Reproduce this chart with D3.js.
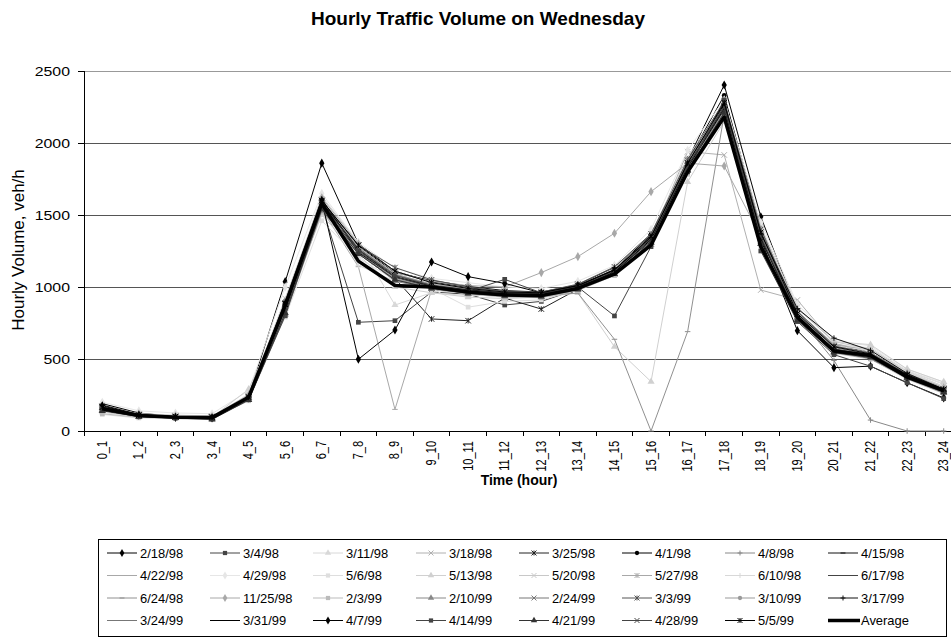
<!DOCTYPE html>
<html><head><meta charset="utf-8">
<script src="https://cdn.jsdelivr.net/npm/d3@7"></script>
<style>body{margin:0;background:#fff} svg{display:block} text{font-family:Arial,"Liberation Sans",sans-serif}</style>
</head><body><svg id="c" width="951" height="644"></svg>
<script>
const hours = ["0_1","1_2","2_3","3_4","4_5","5_6","6_7","7_8","8_9","9_10","10_11","11_12","12_13","13_14","14_15","15_16","16_17","17_18","18_19","19_20","20_21","21_22","22_23","23_24"];
const yTicks = [0,500,1000,1500,2000,2500];
const titleText = "Hourly Traffic Volume on Wednesday";
const xTitle = "Time (hour)";
const yTitle = "Hourly Volume, veh/h";

const seriesNames = ["2/18/98","3/4/98","3/11/98","3/18/98","3/25/98","4/1/98","4/8/98","4/15/98",
 "4/22/98","4/29/98","5/6/98","5/13/98","5/20/98","5/27/98","6/10/98","6/17/98",
 "6/24/98","11/25/98","2/3/99","2/10/99","2/24/99","3/3/99","3/10/99","3/17/99",
 "3/24/99","3/31/99","4/7/99","4/14/99","4/21/99","4/28/99","5/5/99"];

const v_021898 = [190,125,100,95,240,1037,1860,1300,1110,1035,995,965,955,1010,1125,1360,1880,2403,1488,830,600,545,395,295];
const v_030498 = [160,105,95,90,220,820,1560,755,766,965,950,875,900,985,1090,1310,1810,2270,1300,780,560,505,365,265];
const v_031198 = [140,110,100,100,255,910,1630,1310,875,960,940,950,960,1010,1125,1345,1860,2250,1390,830,605,570,415,325];
const v_031898 = [150,115,105,100,245,875,1605,1265,1090,1020,985,960,955,1005,1105,1335,1940,1917,979,910,610,545,395,295];
const v_032598 = [170,110,95,95,225,860,1580,1250,1060,778,766,923,847,985,1090,1300,1820,2230,1320,790,570,520,380,280];
const v_040198 = [155,100,90,90,230,900,1600,1285,1100,1045,1005,975,965,1015,1135,1365,1875,2330,1410,805,565,500,370,270];
const v_040898 = [150,105,100,95,235,880,1580,1270,1085,1010,980,960,950,1000,1110,1330,1840,2240,1340,800,490,76,0,0];
const v_041598 = [165,110,100,100,230,850,1570,1240,1050,1000,970,950,945,995,1100,1320,1800,2200,1300,770,550,520,375,275];
const v_042298 = [145,100,95,90,220,830,1540,1141,150,979,960,940,940,990,1100,1310,1820,2210,1310,780,560,520,380,270];
const v_042998 = [200,140,125,120,280,1000,1650,1310,1130,1060,1030,1000,990,1040,1150,1400,1950,2300,1450,880,630,590,430,340];
const v_050698 = [115,90,85,80,260,790,1460,1200,1050,990,860,900,910,980,1080,1300,1780,2200,1320,800,590,580,420,330];
const v_051398 = [130,100,95,95,290,850,1500,1220,1000,960,930,920,930,958,585,343,1730,2150,1400,850,620,600,430,340];
const v_052098 = [160,120,110,105,250,920,1610,1290,1110,1030,990,965,960,1010,1130,1370,1900,2280,1420,860,620,570,410,310];
const v_052798 = [150,110,100,100,240,870,1590,1280,1090,1020,985,960,955,1005,1120,1350,1880,2250,1380,830,600,560,400,300];
const v_061098 = [140,105,100,95,245,880,1600,1150,1040,1000,960,940,935,990,1100,1330,1850,2220,1350,820,590,560,410,310];
const v_061798 = [155,105,95,95,230,870,1580,1260,1070,1005,970,950,945,995,1105,1320,1820,2230,1330,790,565,520,380,280];
const v_062498 = [150,105,95,95,235,860,1570,1250,1060,1000,965,945,940,958,637,0,690,2200,1300,780,560,520,375,275];
const v_112598 = [170,120,105,100,250,900,1620,1300,1100,1040,1010,1000,1100,1211,1373,1662,1860,1840,1350,820,590,540,400,300];
const v_020399 = [120,95,90,85,210,800,1520,1230,1050,990,950,930,925,975,1080,1300,1790,2190,1290,760,540,500,360,260];
const v_021099 = [145,100,90,85,215,810,1530,1240,1040,990,955,935,930,980,1090,1310,1810,2210,1300,770,550,510,365,265];
const v_022499 = [160,110,100,95,235,870,1590,1270,1085,1015,980,955,950,1000,1110,1340,1850,2260,1360,810,580,530,390,285];
const v_030399 = [165,115,100,100,240,890,1600,1290,1135,1050,1000,970,965,1020,1140,1370,1880,2290,1400,830,590,540,395,290];
const v_031099 = [155,105,95,90,225,850,1560,1240,1060,995,960,945,940,990,1095,1310,1820,2220,1320,785,560,515,375,275];
const v_031799 = [180,115,100,95,240,900,1610,1240,1070,1010,980,960,955,1005,1115,1345,1860,2270,1370,850,645,560,400,290];
const v_032499 = [150,105,95,90,230,840,1550,1230,1050,995,960,940,935,985,1090,1300,1800,2200,1290,770,545,505,370,270];
const v_033199 = [160,110,100,95,235,870,1590,1260,1070,1005,975,955,950,1000,1105,1330,1830,2240,1340,795,565,525,385,280];
const v_040799 = [175,110,95,90,230,880,1600,498,701,1174,1072,1025,960,1010,1120,1340,1840,2250,1330,697,440,450,335,230];
const v_041499 = [150,100,90,85,220,800,1550,1250,1070,1000,970,1053,960,1000,799,1280,1800,2300,1250,760,530,450,335,225];
const v_042199 = [140,100,90,80,215,820,1540,1230,1050,990,955,940,935,985,1090,1310,1810,2210,1300,770,545,510,370,270];
const v_042899 = [155,105,95,95,230,860,1580,1260,1080,1010,975,955,950,1000,1110,1340,1840,2250,1350,800,570,530,385,285];
const v_050599 = [165,110,100,95,235,880,1600,1290,1110,1030,990,965,960,1010,1120,1350,1860,2280,1380,815,585,535,390,290];
const averageName = "Average";
const averageValues = [155,108,96,93,235,870,1580,1180,1010,1000,965,945,940,990,1090,1290,1800,2180,1280,790,555,525,375,280];

const seriesValues = [v_021898,v_030498,v_031198,v_031898,v_032598,v_040198,v_040898,v_041598,
 v_042298,v_042998,v_050698,v_051398,v_052098,v_052798,v_061098,v_061798,
 v_062498,v_112598,v_020399,v_021099,v_022499,v_030399,v_031099,v_031799,
 v_032499,v_033199,v_040799,v_041499,v_042199,v_042899,v_050599];

// styles (kept apart from data)
const seriesColors = ["#000","#444","#d8d8d8","#b0b0b0","#222","#000","#888","#111",
 "#a8a8a8","#e6e6e6","#dedede","#d0d0d0","#c8c8c8","#a8a8a8","#d8d8d8","#444",
 "#909090","#a8a8a8","#bbbbbb","#888","#777","#555","#999","#111",
 "#777","#000","#000","#444","#333","#444","#000"];
const seriesMarkers = ["diamond","square","triangle","x","star","circle","plus","dash",
 "dash","diamond","square","triangle","x","star","plus","dash",
 "dash","diamond","square","triangle","x","star","circle","plus",
 "dash","dash","diamond","square","triangle","x","star"];

const FONT = "Arial, 'Liberation Sans', sans-serif";
const svg = d3.select("#c");
const plotL = 84, plotR = 951, plotT = 71, plotB = 431;
const x = d3.scaleBand().domain(hours).range([plotL, 962]);
const y = d3.scaleLinear().domain([0, 2500]).range([plotB, plotT]);
const cx = h => x(h) + x.bandwidth()/2;

// gridlines
svg.append("g").selectAll("line").data(yTicks.filter(t => t > 0)).join("line")
  .attr("x1", plotL).attr("x2", plotR).attr("y1", d => y(d)).attr("y2", d => y(d))
  .attr("stroke", d => d === 2500 ? "#999" : "#555").attr("stroke-width", 1)
  .attr("shape-rendering", "crispEdges");

// y axis
const yAxis = d3.axisLeft(y).tickValues(yTicks).tickFormat(d3.format("d")).tickSize(6).tickPadding(8);
const gy = svg.append("g").attr("transform", `translate(${plotL},0)`).call(yAxis);
gy.select(".domain").attr("stroke", "#000").attr("shape-rendering", "crispEdges");
gy.selectAll(".tick line").attr("stroke", "#000").attr("shape-rendering", "crispEdges");
gy.selectAll(".tick text").attr("font-size", 13).attr("fill", "#000").attr("font-family", FONT)
  .attr("x", 0).attr("dy", "0.36em").attr("transform", "translate(-14,0) scale(1.22,1)");

// x axis
const xAxis = d3.axisBottom(x).tickSize(0).tickPadding(0);
const gx = svg.append("g").attr("transform", `translate(0,${plotB})`).call(xAxis);
gx.select(".domain").remove();
gx.append("line").attr("x1", plotL).attr("x2", plotR).attr("y1", 0).attr("y2", 0)
  .attr("stroke", "#000").attr("shape-rendering", "crispEdges");
gx.selectAll(".tick text").attr("font-size", 11).attr("fill", "#000").attr("font-family", FONT)
  .attr("text-anchor", "end").attr("dy", null).attr("y", 0)
  .attr("transform", "translate(4.5,10) scale(1.27,1) rotate(-90)");
gx.append("g").selectAll("line").data(hours).join("line")
  .attr("x1", d => x(d)).attr("x2", d => x(d)).attr("y1", 0).attr("y2", 5)
  .attr("stroke", "#000").attr("shape-rendering", "crispEdges");

function markerPath(type, s) {
  const h = s/2;
  switch (type) {
    case "x": return `M${-h},${-h}L${h},${h}M${-h},${h}L${h},${-h}`;
    case "star": return `M${-h},${-h}L${h},${h}M${-h},${h}L${h},${-h}M0,${-h}L0,${h}`;
    case "plus": return `M${-h},0L${h},0M0,${-h}L0,${h}`;
    case "dash": return `M${-h},0L${h},0`;
  }
  return null;
}
function drawMarker(g, type, px, py, color, scale) {
  const k = scale || 1;
  if (type === "diamond" || type === "square" || type === "triangle" || type === "circle") {
    const sym = {diamond: d3.symbolDiamond, square: d3.symbolSquare, triangle: d3.symbolTriangle, circle: d3.symbolCircle}[type];
    const size = {diamond: 24, square: 22, triangle: 22, circle: 18}[type] * k * k;
    g.append("path").attr("d", d3.symbol().type(sym).size(size)())
      .attr("transform", `translate(${px},${py})`).attr("fill", color).attr("stroke", "none");
  } else {
    g.append("path").attr("d", markerPath(type, 5.5 * k))
      .attr("transform", `translate(${px},${py})`).attr("fill", "none").attr("stroke", color).attr("stroke-width", 1);
  }
}

const line = d3.line().x((d, i) => cx(hours[i])).y(d => y(d));
const plot = svg.append("g");
seriesValues.forEach((vals, si) => {
  const g = plot.append("g");
  g.append("path").attr("d", line(vals)).attr("fill", "none")
    .attr("stroke", seriesColors[si]).attr("stroke-width", 1);
  vals.forEach((v, i) => drawMarker(g, seriesMarkers[si], cx(hours[i]), y(v), seriesColors[si]));
});
plot.append("path").attr("d", line(averageValues)).attr("fill", "none")
  .attr("stroke", "#000").attr("stroke-width", 3.5).attr("stroke-linejoin", "round");

// titles
svg.append("text").attr("x", 478).attr("y", 25).attr("text-anchor", "middle")
  .attr("font-size", 19).attr("font-weight", "bold").text(titleText);
svg.append("text").attr("x", 519).attr("y", 485).attr("text-anchor", "middle")
  .attr("font-size", 14).attr("font-weight", "bold").text(xTitle);
svg.append("text").attr("transform", "translate(24,250) rotate(-90)").attr("text-anchor", "middle")
  .attr("font-size", 17).text(yTitle);

// legend
const legend = svg.append("g");
legend.append("rect").attr("x", 98.5).attr("y", 539.5).attr("width", 848).attr("height", 97)
  .attr("fill", "#fff").attr("stroke", "#000").attr("shape-rendering", "crispEdges");
const legNames = seriesNames.concat([averageName]);
legNames.forEach((name, k) => {
  const col = k % 8, row = Math.floor(k / 8);
  const tx = 140 + col * 103, ty = 553 + row * 22.5;
  const g = legend.append("g");
  if (k < seriesNames.length) {
    g.append("line").attr("x1", tx - 33).attr("x2", tx - 3).attr("y1", ty).attr("y2", ty)
      .attr("stroke", seriesColors[k]).attr("stroke-width", 1);
    drawMarker(g, seriesMarkers[k], tx - 18, ty, seriesColors[k], 0.9);
  } else {
    g.append("line").attr("x1", tx - 33).attr("x2", tx - 1).attr("y1", ty).attr("y2", ty)
      .attr("stroke", "#000").attr("stroke-width", 3.5);
  }
  g.append("text").attr("x", 0).attr("y", 0).attr("font-size", 12).attr("fill", "#000")
    .attr("transform", `translate(${tx},${ty + 4.5}) scale(1.08,1)`).text(name);
});
</script></body></html>
